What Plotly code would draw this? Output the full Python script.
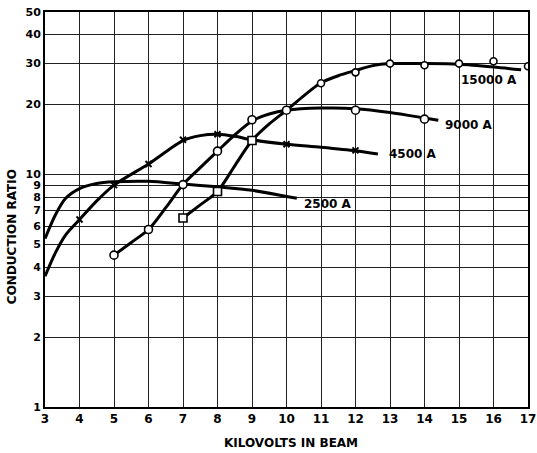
import math
import plotly.graph_objects as go

# ---- data ----
# 2500 A (curve only, no plotted points)
c2500_x = [3, 3.3, 3.6, 4, 4.5, 5, 6, 7, 8, 9, 10, 10.3]
c2500_y = [5.3, 6.7, 7.9, 8.7, 9.15, 9.3, 9.35, 9.1, 8.85, 8.55, 8.05, 7.9]

# 4500 A
p4500_x = [4, 5, 6, 7, 8, 9, 10, 12]
p4500_y = [6.4, 9.0, 11.1, 14.1, 14.9, 14.0, 13.5, 12.7]
c4500_x = [3, 3.3, 3.6, 4, 4.5, 5, 6, 7, 7.5, 8, 8.5, 9, 10, 11, 12, 12.65]
c4500_y = [3.65, 4.6, 5.5, 6.4, 7.7, 9.0, 11.1, 14.0, 14.7, 14.9, 14.6, 14.1, 13.5, 13.1, 12.65, 12.25]

# 9000 A
p9000_x = [5, 6, 7, 8, 9, 10, 12, 14]
p9000_y = [4.5, 5.8, 9.05, 12.6, 17.2, 18.9, 18.9, 17.3]
c9000_x = [5, 5.5, 6, 6.5, 7, 7.5, 8, 8.5, 9, 9.5, 10, 11, 12, 13, 14, 14.4]
c9000_y = [4.5, 5.1, 5.8, 7.2, 9.05, 10.7, 12.6, 14.8, 17.0, 18.2, 18.9, 19.3, 19.2, 18.5, 17.5, 17.1]

# 15000 A
p15000_sq_x = [7, 8, 9]
p15000_sq_y = [6.5, 8.45, 14.0]
p15000_x = [11, 12, 13, 14, 15, 16, 17]
p15000_y = [24.7, 27.5, 30.0, 29.5, 30.0, 30.7, 29.2]
c15000_x = [7, 7.5, 8, 8.5, 9, 9.5, 10, 10.5, 11, 11.5, 12, 12.5, 13, 14, 15, 16, 16.8]
c15000_y = [6.5, 7.4, 8.45, 10.9, 14.0, 16.5, 18.9, 21.8, 24.8, 26.6, 28.0, 29.4, 30.0, 30.0, 29.8, 29.0, 28.2]

# curve labels
lab_text = ["15000 A", "9000 A", "4500 A", "2500 A"]
lab_x = [15.0, 14.55, 12.9, 10.45]
lab_y = [25.4, 16.3, 12.2, 7.45]

x_ticks = list(range(3, 18))
y_ticks = [1, 2, 3, 4, 5, 6, 7, 8, 9, 10, 20, 30, 40, 50]

FONT = "DejaVu Sans"
fig = go.Figure()

def curve(x, y):
    fig.add_trace(go.Scatter(x=x, y=y, mode="lines",
                             line=dict(color="black", width=3, shape="spline", smoothing=0.8),
                             hoverinfo="skip", showlegend=False))

def pts(x, y, sym, size=7, lw=1.6):
    fig.add_trace(go.Scatter(x=x, y=y, mode="markers",
                             marker=dict(symbol=sym, size=size, color="white",
                                         line=dict(color="black", width=lw)),
                             showlegend=False))

curve(c2500_x, c2500_y)
curve(c4500_x, c4500_y)
curve(c9000_x, c9000_y)
curve(c15000_x, c15000_y)

fig.add_trace(go.Scatter(x=p4500_x, y=p4500_y, mode="markers",
                         marker=dict(symbol="x-thin", size=6, color="black",
                                     line=dict(color="black", width=2)),
                         showlegend=False))
pts(p9000_x, p9000_y, "circle", 8)
pts(p15000_sq_x, p15000_sq_y, "square", 8)
pts(p15000_x, p15000_y, "circle", 7)

for t, x, y in zip(lab_text, lab_x, lab_y):
    fig.add_annotation(x=x, y=math.log10(y), text="<b>%s</b>" % t, showarrow=False,
                       xanchor="left", yanchor="middle",
                       font=dict(family=FONT, size=12, color="black"))

fig.add_annotation(xref="paper", yref="paper", x=0.51, y=0, yshift=-36,
                   text="<b>KILOVOLTS IN BEAM</b>",
                   showarrow=False, xanchor="center", yanchor="middle",
                   font=dict(family=FONT, size=12, color="black"))
fig.add_annotation(xref="paper", yref="paper", x=0, xshift=-33, y=0.43,
                   text="<b>CONDUCTION RATIO</b>",
                   showarrow=False, textangle=-90,
                   xanchor="center", yanchor="middle",
                   font=dict(family=FONT, size=12, color="black"))

fig.update_xaxes(range=[3, 17], tickvals=x_ticks, ticktext=[str(v) for v in x_ticks],
                 showgrid=True, gridcolor="#222", gridwidth=1,
                 showline=True, linecolor="black", linewidth=2, mirror=True,
                 ticks="", zeroline=False, ticklabeloverflow="allow", automargin=False,
                 tickfont=dict(family=FONT, size=12, color="black", weight="bold"))
fig.update_yaxes(type="log", range=[0, 1.69897], tickvals=y_ticks,
                 ticktext=[str(v) for v in y_ticks],
                 showgrid=True, gridcolor="#222", gridwidth=1,
                 showline=True, linecolor="black", linewidth=2, mirror=True,
                 ticks="", zeroline=False, automargin=False,
                 tickfont=dict(family=FONT, size=11, color="black", weight="bold"))

fig.update_layout(width=537, height=453, margin=dict(l=45, r=9, t=12, b=46),
                  plot_bgcolor="white", paper_bgcolor="white",
                  showlegend=False)

fig.write_html("out.html")
